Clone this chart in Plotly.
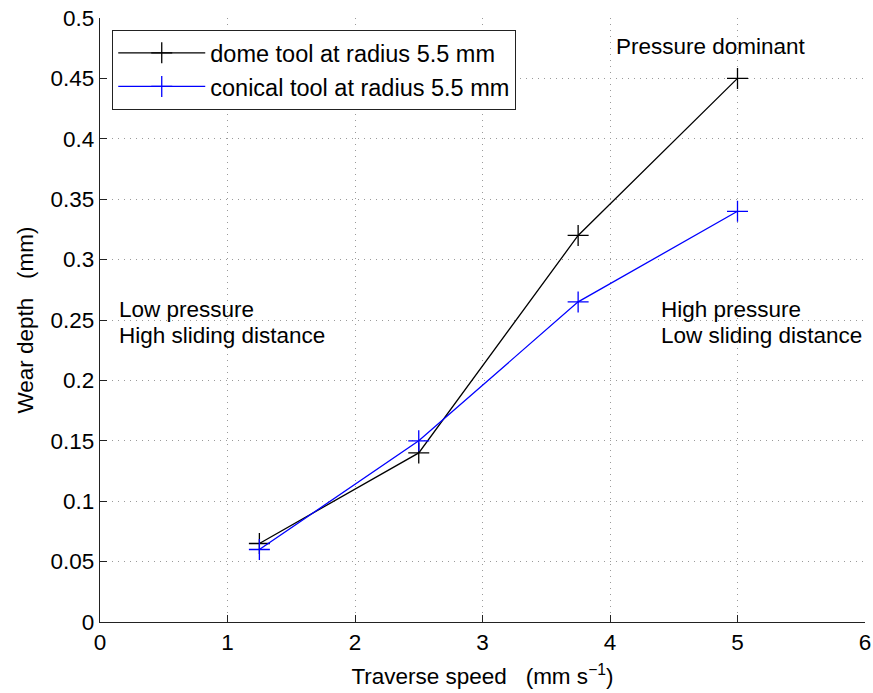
import plotly.graph_objects as go

speed = [1.25, 2.5, 3.75, 5.0]
dome_wear = [0.065, 0.14, 0.32, 0.45]
conical_wear = [0.06, 0.15, 0.265, 0.34]

x_ticks = [0, 1, 2, 3, 4, 5, 6]
y_ticks = [0, 0.05, 0.1, 0.15, 0.2, 0.25, 0.3, 0.35, 0.4, 0.45, 0.5]
y_tick_labels = ["0", "0.05", "0.1", "0.15", "0.2", "0.25", "0.3", "0.35", "0.4", "0.45", "0.5"]

FONT = "Liberation Sans, Arial, Helvetica, sans-serif"
FS = 22.5

fig = go.Figure()
fig.add_trace(go.Scatter(
    x=speed, y=dome_wear, mode="lines+markers", name="dome tool at radius 5.5 mm",
    line=dict(color="black", width=1.3),
    marker=dict(symbol="cross-thin", size=15, line=dict(color="black", width=1.3)),
))
fig.add_trace(go.Scatter(
    x=speed, y=conical_wear, mode="lines+markers", name="conical tool at radius 5.5 mm",
    line=dict(color="#0000ff", width=1.3),
    marker=dict(symbol="cross-thin", size=15, line=dict(color="#0000ff", width=1.3)),
))

ann_font = dict(family=FONT, size=FS, color="black")
annots = [
    (4.04, 0.476, "Pressure dominant"),
    (0.14, 0.259, "Low pressure"),
    (0.14, 0.2375, "High sliding distance"),
    (4.39, 0.259, "High pressure"),
    (4.39, 0.2375, "Low sliding distance"),
]
for ax_, ay_, txt in annots:
    fig.add_annotation(x=ax_, y=ay_, text=txt, showarrow=False,
                       xanchor="left", yanchor="middle", align="left", font=ann_font,
                       borderpad=0)

axis_common = dict(
    showline=True, linecolor="#222222", linewidth=1.3,
    ticks="inside", ticklen=7, tickcolor="#222222", tickwidth=1,
    showgrid=True, gridcolor="#9a9a9a", griddash="1px,5px", gridwidth=1,
    zeroline=False, tickfont=dict(family=FONT, size=FS, color="black"),
    mirror=False, automargin=False,
)

fig.update_xaxes(range=[0, 6], tickvals=x_ticks, ticktext=[str(v) for v in x_ticks],
                 title=dict(text="Traverse speed   (mm s<sup>−1</sup>)", font=dict(family=FONT, size=FS, color="black"), standoff=14),
                 **axis_common)
fig.update_yaxes(range=[0, 0.5], tickvals=y_ticks, ticktext=y_tick_labels,
                 title=dict(text="Wear depth   (mm)", font=dict(family=FONT, size=FS, color="black"), standoff=10),
                 **axis_common)

fig.update_layout(
    width=873, height=693,
    margin=dict(l=100, r=8, t=18, b=71),
    plot_bgcolor="white", paper_bgcolor="white",
    font=dict(family=FONT, size=FS, color="black"),
    legend=dict(x=0.016, y=0.98, xanchor="left", yanchor="top",
                bordercolor="#222222", borderwidth=1, bgcolor="white",
                font=dict(family=FONT, size=23.5, color="black"),
                tracegroupgap=0, itemwidth=87),
    showlegend=True,
)

fig.write_html("out.html", config={"displayModeBar": False},
               post_script="document.body.style.margin='0';document.body.style.overflow='hidden';")
